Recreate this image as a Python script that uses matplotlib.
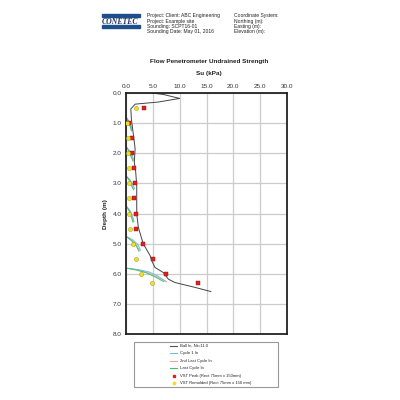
import matplotlib
matplotlib.use("Agg")
import matplotlib.pyplot as plt
from matplotlib.patches import Rectangle

plt.rcParams["font.family"] = ["Liberation Sans", "DejaVu Sans"]

# ---------------- data ----------------
ball_su = [4.8, 7.0, 10.0, 6.0, 1.7, 0.9, 1.0, 1.4, 1.7, 1.55, 1.8, 2.0, 2.0, 2.0, 2.0,
           2.3, 3.2, 4.5, 4.8, 5.4, 6.95, 7.9, 9.1, 12.8, 15.8]
ball_depth = [0.0, 0.05, 0.18, 0.3, 0.37, 0.53, 0.86, 1.42, 1.85, 2.3, 2.6, 3.08, 3.63, 3.96, 4.02,
              4.46, 5.0, 5.4, 5.57, 5.79, 5.96, 6.18, 6.29, 6.45, 6.59]

cycle_starts = [0.82, 1.8, 2.77, 3.77, 4.77, 5.82]
cycle1_su = [[0.1, 0.5, 0.9, 1.2], [0.1, 0.6, 1.1, 1.5], [0.1, 0.7, 1.2, 1.6],
             [0.1, 0.7, 1.2, 1.5], [0.1, 1.2, 2.2, 2.7], [0.3, 2.2, 4.3, 5.8, 7.3]]
cycle1_dd = [[0.0, 0.1, 0.25, 0.4], [0.0, 0.1, 0.25, 0.42], [0.0, 0.1, 0.25, 0.4],
             [0.0, 0.12, 0.3, 0.5], [0.0, 0.1, 0.25, 0.45], [0.0, 0.04, 0.12, 0.24, 0.42]]
cycle2_su = [[0.1, 0.5, 0.9, 1.1], [0.1, 0.6, 1.0, 1.4], [0.1, 0.7, 1.1, 1.5],
             [0.1, 0.7, 1.1, 1.4], [0.1, 1.1, 2.0, 2.5], [0.3, 2.1, 4.0, 5.6, 7.6]]
cycle2_dd = [[0.0, 0.12, 0.28, 0.42], [0.0, 0.12, 0.28, 0.44], [0.0, 0.12, 0.28, 0.42],
             [0.0, 0.14, 0.32, 0.5], [0.0, 0.12, 0.28, 0.46], [0.0, 0.05, 0.14, 0.27, 0.45]]
cycle3_su = [[0.1, 0.4, 0.8, 1.0], [0.1, 0.5, 0.9, 1.3], [0.1, 0.6, 1.0, 1.4],
             [0.1, 0.6, 1.0, 1.3], [0.1, 1.0, 1.9, 2.4], [0.3, 2.0, 3.8, 5.4, 7.0]]
cycle3_dd = [[0.0, 0.13, 0.3, 0.44], [0.0, 0.13, 0.3, 0.46], [0.0, 0.13, 0.3, 0.44],
             [0.0, 0.15, 0.34, 0.52], [0.0, 0.13, 0.3, 0.48], [0.0, 0.06, 0.15, 0.28, 0.44]]

vst_peak_su = [3.35, 0.6, 1.05, 1.2, 1.55, 1.7, 1.55, 1.8, 1.8, 3.2, 5.1, 7.4, 13.5]
vst_peak_depth = [0.5, 1.0, 1.5, 2.0, 2.5, 3.0, 3.5, 4.0, 4.5, 5.0, 5.5, 6.0, 6.3]
vst_rem_su = [1.8, 0.2, 0.4, 0.4, 0.5, 0.5, 0.5, 0.55, 0.75, 1.35, 1.8, 2.8, 4.8]
vst_rem_depth = [0.5, 1.0, 1.5, 2.0, 2.5, 3.0, 3.5, 4.0, 4.5, 5.0, 5.5, 6.0, 6.3]

x_ticks = [0, 5, 10, 15, 20, 25, 30]
y_ticks = [0, 1, 2, 3, 4, 5, 6, 7, 8]

header_left = ["Project: Client: ABC Engineering", "Project: Example site",
               "Sounding: SCPT16-01", "Sounding Date: May 01, 2016"]
header_right = ["Coordinate System:", "Northing (m):", "Easting (m):", "Elevation (m):"]
legend_labels = ["Ball In, Nt=11.0", "Cycle 1 In", "2nd Last Cycle In", "Last Cycle In",
                 "VST Peak (Rect 75mm x 150mm)", "VST Remolded (Rect 75mm x 150 mm)"]

# ---------------- figure ----------------
fig = plt.figure(figsize=(4, 4), dpi=100)
fig.patch.set_facecolor("white")

W = H = 400.0
def fx(px): return px / W
def fy(py): return 1 - py / H

ax = fig.add_axes([fx(126), fy(334), (287 - 126) / W, (334 - 93) / H])
ax.set_xlim(0, 30)
ax.set_ylim(8, 0)
ax.xaxis.tick_top()
ax.set_xticks(x_ticks)
ax.set_xticklabels([f"{v:.1f}" for v in x_ticks])
ax.set_yticks(y_ticks)
ax.set_yticklabels([f"{v:.1f}" for v in y_ticks])
ax.tick_params(labelsize=4.6, length=0, pad=3, colors="#333333")
ax.grid(True, color="#cccccc", lw=0.9)
ax.set_axisbelow(True)
for s in ax.spines.values():
    s.set_linewidth(1.3)
    s.set_color("#222222")

c1, c2, c3 = "#7ab8e6", "#f2a0a0", "#3fc46a"
for d0, su_a, dd_a, su_b, dd_b, su_c, dd_c in zip(cycle_starts, cycle1_su, cycle1_dd,
                                                  cycle2_su, cycle2_dd, cycle3_su, cycle3_dd):
    ax.plot(su_b, [d0 + d for d in dd_b], color=c2, lw=0.7)
    ax.plot(su_a, [d0 + d for d in dd_a], color=c1, lw=0.7)
    ax.plot(su_c, [d0 + d for d in dd_c], color=c3, lw=0.7)

ax.plot(ball_su, ball_depth, color="#444444", lw=0.7)
ax.scatter(vst_peak_su, vst_peak_depth, marker="s", s=8, c="#e02020", edgecolors="#8a1010", lw=0.3, zorder=5)
ax.scatter(vst_rem_su, vst_rem_depth, marker="o", s=9, c="#f0e020", edgecolors="#909020", lw=0.3, zorder=5)

fig.text(fx(209), fy(62), "Flow Penetrometer Undrained Strength", ha="center", va="center",
         fontsize=4.6, fontweight="bold", color="#222222")
fig.text(fx(209), fy(74), "Su (kPa)", ha="center", va="center", fontsize=4.6,
         fontweight="bold", color="#222222")
fig.text(fx(106), fy(214), "Depth (m)", ha="center", va="center", rotation=90,
         fontsize=4.6, fontweight="bold", color="#222222")

# logo
fig.patches.append(Rectangle((fx(102), fy(16.5)), (140 - 102) / W, 2.8 / H,
                             transform=fig.transFigure, color="#1f4e8c"))
fig.patches.append(Rectangle((fx(102), fy(28)), (140 - 102) / W, 2.8 / H,
                             transform=fig.transFigure, color="#1f4e8c"))
fig.text(fx(120), fy(21.8), "CONETEC", ha="center", va="center", fontsize=5.6,
         family="Liberation Serif", style="italic", fontweight="bold", color="#1f3560")

for i, t in enumerate(header_left):
    fig.text(fx(147), fy(16 + i * 5.2), t, ha="left", va="center", fontsize=3.6, color="#222222")
for i, t in enumerate(header_right):
    fig.text(fx(234), fy(16 + i * 5.2), t, ha="left", va="center", fontsize=3.6, color="#222222")

# legend box
fig.patches.append(Rectangle((fx(134), fy(387)), (278 - 134) / W, (387 - 342) / H,
                             transform=fig.transFigure, fill=False, ec="#999999", lw=0.8))
styles = [("line", "#555555"), ("line", c1), ("line", c2), ("line", c3),
          ("sq", "#e02020"), ("ci", "#f0e020")]
for i, (lab, (kind, col)) in enumerate(zip(legend_labels, styles)):
    yy = 345.7 + i * 7.5
    if kind == "line":
        fig.add_artist(plt.Line2D([fx(170), fx(177)], [fy(yy), fy(yy)], color=col, lw=0.8,
                                  transform=fig.transFigure))
    else:
        fig.add_artist(plt.Line2D([fx(173.5)], [fy(yy)], marker="s" if kind == "sq" else "o",
                                  ms=1.8, color=col, transform=fig.transFigure, lw=0))
    fig.text(fx(180), fy(yy), lab, ha="left", va="center", fontsize=3.0, color="#222222")

fig.savefig("out.png", dpi=100, facecolor="white")
